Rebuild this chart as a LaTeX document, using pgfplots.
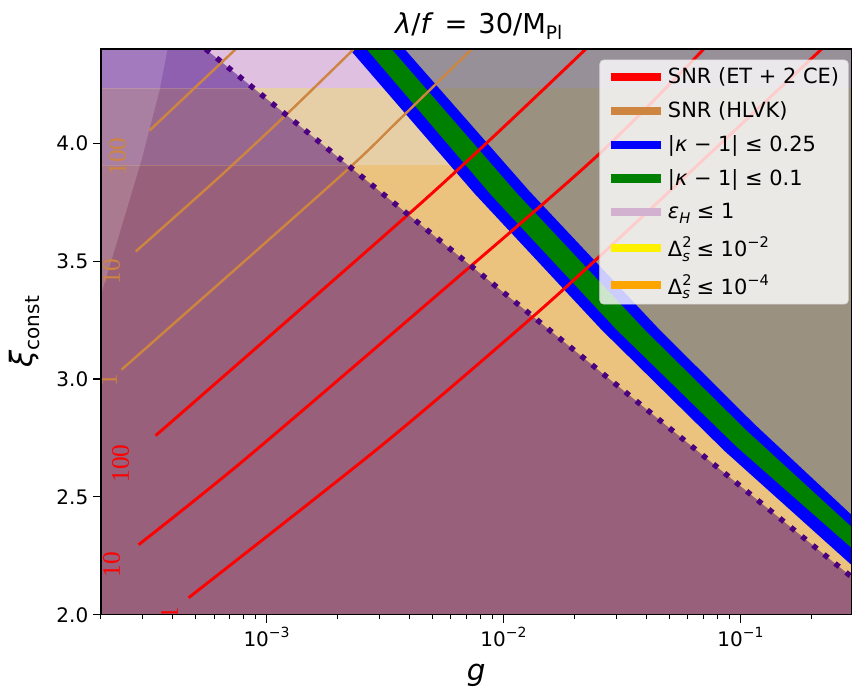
\documentclass[border=0pt]{standalone}
\usepackage{fontspec}
\setmainfont{DejaVu Sans}
\newfontfamily\labfont{Liberation Serif}
\usepackage{pgfplots}
\pgfplotsset{compat=1.18}

\definecolor{betB}{RGB}{236,195,126}
\definecolor{betM}{RGB}{230,206,166}
\definecolor{betT}{RGB}{224,192,224}
\definecolor{grayB}{RGB}{154,145,128}
\definecolor{grayT}{RGB}{151,144,153}
\definecolor{mauB}{RGB}{152,96,122}
\definecolor{mauM}{RGB}{152,103,143}
\definecolor{mauT}{RGB}{144,96,176}
\definecolor{peru}{RGB}{205,133,63}
\definecolor{indigo}{RGB}{75,0,130}
\definecolor{kgreen}{RGB}{0,128,0}
\definecolor{epsleg}{RGB}{210,176,208}
\definecolor{dorange}{RGB}{255,165,0}

\newcommand{\lowr}[2]{\raisebox{-0.22em}{\fontsize{#1}{#1}\selectfont #2}}
\newcommand{\upr}[2]{\raisebox{0.42em}{\fontsize{#1}{#1}\selectfont #2}}
\newcommand{\clab}[1]{{\labfont\fontsize{19}{19}\selectfont #1}}
\newcommand{\Ds}{Δ\rlap{\upr{11}{2}}\lowr{11}{\textit{s}}}

\begin{document}
\begin{tikzpicture}
\begin{axis}[
  at={(75.75pt,54.75pt)}, anchor=south west,
  scale only axis,
  width=563pt, height=424.5pt,
  xmode=log,
  xmin=2e-4, xmax=0.2939,
  ymin=2, ymax=4.4,
  axis on top,
  xtick={1e-3,1e-2,1e-1},
  xticklabels={10\upr{10.5}{−3},10\upr{10.5}{−2},10\upr{10.5}{−1}},
  minor xtick={2e-4,3e-4,4e-4,5e-4,6e-4,7e-4,8e-4,9e-4,2e-3,3e-3,4e-3,5e-3,6e-3,7e-3,8e-3,9e-3,2e-2,3e-2,4e-2,5e-2,6e-2,7e-2,8e-2,9e-2,2e-1},
  ytick={2,2.5,3,3.5,4},
  yticklabels={2.0,2.5,3.0,3.5,4.0},
  tick pos=left,
  tick align=outside,
  major tick length=6pt,
  minor tick length=3.5pt,
  every tick/.style={black, line width=0.9pt},
  minor tick style={line width=0.7pt},
  axis line style={line width=1pt},
  tick label style={font=\fontsize{15}{15}\selectfont},
  title={\textit{λ}/\textit{f}\hspace{0.4em}=\hspace{0.4em}30/M\lowr{14}{Pl}},
  title style={at={(axis description cs:0.5,1)}, anchor=base, xshift=2pt, yshift=5.5pt, font=\fontsize{20.5}{21}\selectfont},
  xlabel={\textit{g}},
  xlabel style={at={(axis description cs:0.5,0)}, anchor=base, yshift=-49pt, font=\fontsize{22}{22}\selectfont},
  ylabel={\textit{ξ}\lowr{15}{const}},
  ylabel style={at={(axis description cs:0,0.5)}, anchor=center, yshift=57.5pt, font=\fontsize{23}{23}\selectfont},
  legend cell align=left,
  legend image code/.code={\draw[#1] (0pt,0pt) -- (38pt,0pt);},
  legend style={at={(1,1)}, anchor=north east, xshift=-2pt, yshift=-8pt,
    fill=white, fill opacity=0.8, draw opacity=1, text opacity=1,
    draw=black!20, rounded corners=3pt, inner xsep=5pt, inner ysep=4pt,
    font=\fontsize{15.7}{18}\selectfont, row sep=8pt},
]
% horizontal bands (epsilon_H and Delta_s^2 layers)
\addplot[fill=betB, draw=none, forget plot] coordinates {(2e-4,2) (0.2939,2) (0.2939,3.906) (2e-4,3.906)} -- cycle;
\addplot[fill=betM, draw=none, forget plot] coordinates {(2e-4,3.906) (0.2939,3.906) (0.2939,4.2326) (2e-4,4.2326)} -- cycle;
\addplot[fill=betT, draw=none, forget plot] coordinates {(2e-4,4.2326) (0.2939,4.2326) (0.2939,4.4) (2e-4,4.4)} -- cycle;
% region beyond the kappa band
\addplot[fill=grayB, draw=none, forget plot] coordinates {(2.240e-3,4.4) (7.543e-3,3.7874) (2.591e-2,3.2097) (8.560e-2,2.6957) (0.2939,2.2122) (0.2939,4.4)} -- cycle;
\addplot[fill=grayT, draw=none, forget plot] coordinates {(3.5e-3,4.2326) (0.2939,4.2326) (0.2939,4.4) (3.5e-3,4.4)} -- cycle;
% region below the dotted boundary
\addplot[fill=mauT, draw=none, forget plot] coordinates {(2e-4,4.4) (5.528e-4,4.4) (8.84e-4,4.2326) (2e-4,4.2326)} -- cycle;
\addplot[fill=mauM, draw=none, forget plot] coordinates {(2e-4,4.2326) (8.84e-4,4.2326) (2.208e-3,3.906) (2e-4,3.906)} -- cycle;
\addplot[fill=mauB, draw=none, forget plot] coordinates {(2e-4,3.906) (2.208e-3,3.906) (0.2939,2.1613) (0.2939,2) (2e-4,2)} -- cycle;
% light strip on the left
\addplot[fill=white, fill opacity=0.17, draw=none, forget plot] coordinates {(2e-4,4.4) (3.82e-4,4.4) (3.54e-4,4.228) (2.97e-4,3.931) (2.286e-4,3.549) (2.03e-4,3.379) (2e-4,3.337)} -- cycle;
% kappa bands
\addplot[fill=blue, draw=none, forget plot] coordinates {(2.240e-3,4.4) (7.543e-3,3.7874) (2.591e-2,3.2097) (8.560e-2,2.6957) (0.2939,2.2122)
  (0.2939,2.4244) (0.11459,2.8086) (4.551e-2,3.2097) (1.2876e-2,3.7963) (3.822e-3,4.4)} -- cycle;
\addplot[fill=kgreen, draw=none, forget plot] coordinates {(2.642e-3,4.4) (8.900e-3,3.7789) (2.998e-2,3.2097) (9.618e-2,2.7135) (0.2939,2.2844)
  (0.2939,2.3735) (0.10600,2.7818) (3.935e-2,3.2097) (1.1350e-2,3.7895) (3.367e-3,4.4)} -- cycle;
% SNR contours, ET + 2 CE
\addplot[red, line width=2.2pt, smooth, forget plot] coordinates {(4.688e-4,2.0722) (2.911e-3,2.7003) (1.030e-2,3.1672) (2.541e-2,3.5195) (0.2218,4.4024)};
\addplot[red, line width=2.2pt, smooth, forget plot] coordinates {(2.884e-4,2.2971) (8.075e-4,2.6579) (4.873e-3,3.3285) (2.469e-2,3.9440) (7.048e-2,4.4024)};
\addplot[red, line width=2.2pt, smooth, forget plot] coordinates {(3.401e-4,2.7598) (4.873e-3,3.7784) (2.240e-2,4.4024)};
% SNR contours, HLVK
\addplot[peru, line width=1.8pt, smooth, forget plot] coordinates {(2.444e-4,3.0399) (1.975e-3,3.8463) (3.640e-3,4.1010) (7.399e-3,4.4024)};
\addplot[peru, line width=1.8pt, smooth, forget plot] coordinates {(2.802e-4,3.5407) (6.152e-4,3.8463) (1.214e-3,4.1222) (2.351e-3,4.4024)};
\addplot[peru, line width=1.8pt, forget plot] coordinates {(3.209e-4,4.0543) (7.469e-4,4.4024)};
% dotted boundary
\addplot[indigo, line width=4pt, dash pattern=on 4pt off 6.7pt, forget plot] coordinates {(5.528e-4,4.4) (0.2939,2.1613)};
% contour labels
\node[red, rotate=90] at (axis cs:3.897e-4,2.0085) {\clab{1}};
\node[red, rotate=90] at (axis cs:2.218e-4,2.212) {\clab{10}};
\node[red, rotate=90] at (axis cs:2.421e-4,2.641) {\clab{100}};
\node[peru, rotate=90] at (axis cs:2.154e-4,2.993) {\clab{1}};
\node[peru, rotate=90] at (axis cs:2.218e-4,3.456) {\clab{10}};
\node[peru, rotate=90] at (axis cs:2.351e-4,3.944) {\clab{100}};
% legend
\addlegendimage{red, line width=6.2pt}
\addlegendentry{SNR (ET + 2 CE)}
\addlegendimage{peru, line width=6.2pt}
\addlegendentry{SNR (HLVK)}
\addlegendimage{blue, line width=6.2pt}
\addlegendentry{|\textit{κ} − 1| ≤ 0.25}
\addlegendimage{kgreen, line width=6.2pt}
\addlegendentry{|\textit{κ} − 1| ≤ 0.1}
\addlegendimage{epsleg, line width=6.2pt}
\addlegendentry{\textit{ε}\lowr{11}{\textit{H}} ≤ 1}
\addlegendimage{yellow, line width=6.2pt}
\addlegendentry{\Ds{} ≤ 10\upr{11}{−2}}
\addlegendimage{dorange, line width=6.2pt}
\addlegendentry{\Ds{} ≤ 10\upr{11}{−4}}
\end{axis}
\pgfresetboundingbox
\path (0,0) rectangle (640pt,516pt);
\end{tikzpicture}
\end{document}
